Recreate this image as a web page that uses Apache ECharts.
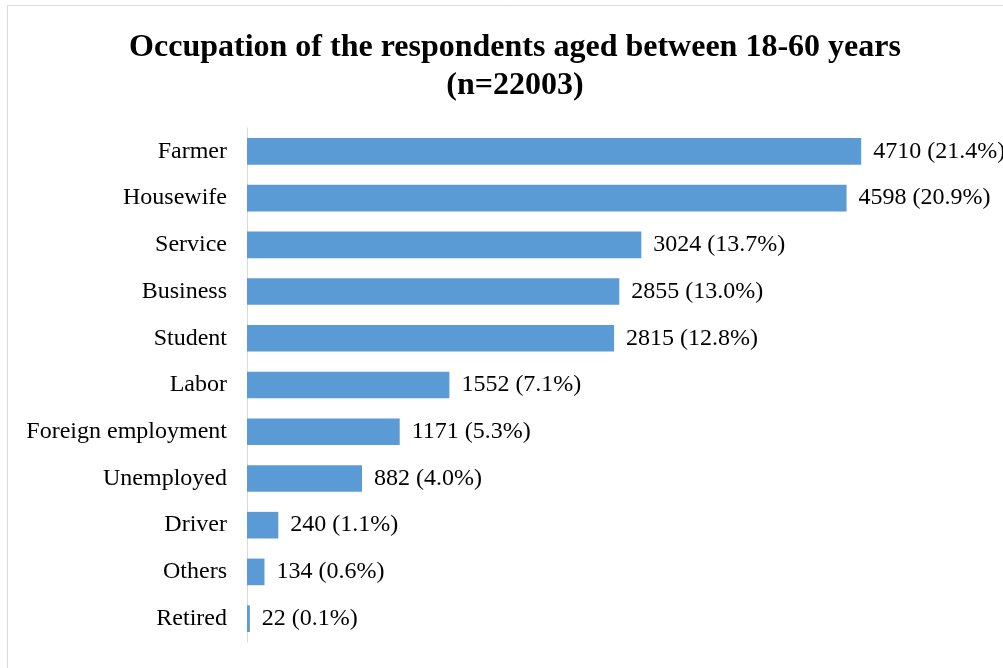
<!DOCTYPE html>
<html>
<head>
<meta charset="utf-8">
<script src="https://cdn.jsdelivr.net/npm/echarts@6/dist/echarts.min.js"></script>
<style>html,body{margin:0;padding:0;background:#fff}#c{width:1003px;height:668px}</style>
</head>
<body>
<div id="c"></div>
<script>
const categories = ['Farmer','Housewife','Service','Business','Student','Labor','Foreign employment','Unemployed','Driver','Others','Retired'];
const counts = [4710, 4598, 3024, 2855, 2815, 1552, 1171, 882, 240, 134, 22];
const percents = ['21.4','20.9','13.7','13.0','12.8','7.1','5.3','4.0','1.1','0.6','0.1'];
const titleText = 'Occupation of the respondents aged between 18-60 years\n(n=22003)';

const chart = echarts.init(document.getElementById('c'), null, {renderer: 'canvas'});
const serif = '"Liberation Serif", "Times New Roman", serif';
chart.setOption({
  animation: false,
  backgroundColor: '#fff',
  title: {
    text: titleText,
    left: 510,
    top: 24,
    textAlign: 'center',
    textStyle: {fontFamily: serif, fontWeight: 'bold', fontSize: 32, color: '#000', lineHeight: 38}
  },
  graphic: [{
    type: 'rect', shape: {x: 7.5, y: 5.5, width: 1010, height: 680},
    style: {fill: 'none', stroke: '#d9d9d9', lineWidth: 1}, silent: true, z: -1
  }],
  grid: {left: 247, top: 128, width: 652, height: 514, containLabel: false},
  xAxis: {type: 'value', min: 0, max: 5000, show: false},
  yAxis: {
    type: 'category', data: categories, inverse: true,
    axisLine: {show: true, lineStyle: {color: '#d9d9d9', width: 1}},
    axisTick: {show: false},
    axisLabel: {fontFamily: serif, fontSize: 24, color: '#000', margin: 20, padding: [5, 0, 0, 0]}
  },
  series: [{
    type: 'bar', data: counts, barCategoryGap: '43%',
    itemStyle: {color: '#5b9bd5'},
    label: {
      show: true, position: 'right', distance: 12,
      fontFamily: serif, fontSize: 24, color: '#000', padding: [5, 0, 0, 0],
      formatter: p => p.value + ' (' + percents[p.dataIndex] + '%)'
    }
  }]
});
</script>
</body>
</html>
